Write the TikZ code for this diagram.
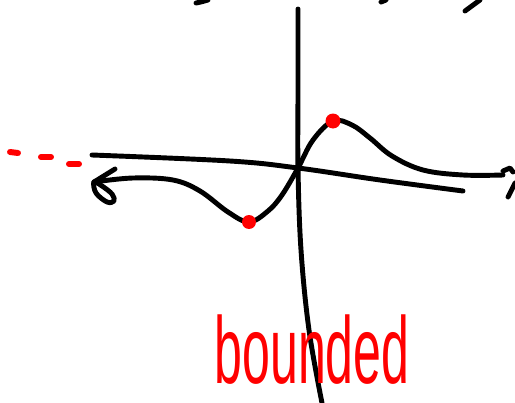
\documentclass[tikz,border=0pt]{standalone}
\usepackage{fontspec}
\newfontfamily\handfont{Liberation Sans}
\usetikzlibrary{positioning}

\tikzset{
    ink/.style={black, line width=2.8pt, line cap=round, line join=round},
    redink/.style={red, line width=3.4pt, line cap=round},
    extremum/.style={fill=red, draw=none}
}

\begin{document}
\begin{tikzpicture}[x=0.02cm, y=-0.02cm]

        \useasboundingbox (0,0) rectangle (515,403);

        % ==========================================
        % Trazos cortados arriba
        % ==========================================
        \draw[ink] (196,3) .. controls (201,2) .. (208,0);
        \draw[ink] (381,2) -- (386,0);
        \draw[ink] (465,11) -- (480,0);

        % ==========================================
        % Ejes
        % ==========================================
        % Eje vertical
        \draw[ink] plot[smooth, tension=0.6] coordinates {(298,9) (298,90) (298,168) (301,250) (309,330) (322,403)};
        % Eje horizontal
        \draw[ink] plot[smooth, tension=0.6] coordinates {(92,155) (230,161) (298,168) (380,180) (463,191)};

        % ==========================================
        % Curva acotada
        % ==========================================
        \draw[ink] plot[smooth, tension=0.6] coordinates {
            (94,182) (133,178) (173,180) (200,191) (228,212) (249,222)
            (268,211) (282,195) (298,168) (313,140) (333,121)
            (352,125) (370,138) (392,156) (423,170) (463,175) (503,175)};
        % Marca al final (derecha)
        \draw[ink] (503,171) -- (510,168) -- (513,172);
        \draw[ink] (515,183) -- (508,197);

        % Punta de flecha a mano (izquierda)
        \draw[ink] (115,169) -- (94,182);
        \draw[ink] plot[smooth cycle, tension=0.6] coordinates {(94,182) (96,193) (107,202) (114,201) (112,194) (102,186)};

        % ==========================================
        % Máximo y mínimo
        % ==========================================
        \fill[extremum] (333,121) circle[radius=0.15cm];
        \fill[extremum] (249,222) circle[radius=0.14cm];

        % Línea punteada roja (izquierda)
        \draw[redink] (10,152) -- (18,153);
        \draw[redink] (41,157) -- (51,157);
        \draw[redink] (69,164) -- (79,164);

        % Texto
        \node[red, anchor=base, inner sep=0pt] (boundedlabel) at (312,383)
            {\scalebox{0.95}[1.8]{\handfont\fontsize{30}{30}\selectfont bounded}};

\end{tikzpicture}
\end{document}
